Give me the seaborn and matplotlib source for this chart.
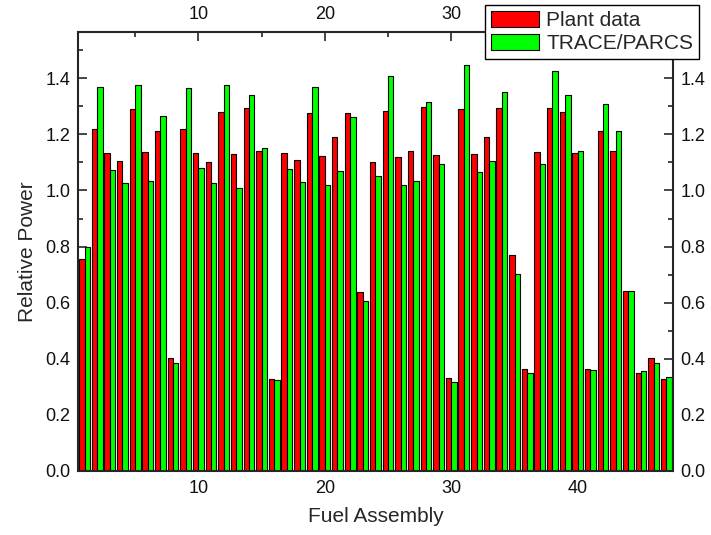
import numpy as np
import pandas as pd
import matplotlib
matplotlib.use('Agg')
import matplotlib.pyplot as plt
import seaborn as sns
from matplotlib.ticker import MultipleLocator

# ── data ─────────────────────────────────────────────────
assembly = list(range(1, 48))
plant = [0.755, 1.218, 1.133, 1.104, 1.292, 1.138, 1.211, 0.403, 1.218, 1.132,
         1.101, 1.280, 1.130, 1.293, 1.140, 0.326, 1.133, 1.107, 1.278, 1.122,
         1.190, 1.275, 0.639, 1.103, 1.284, 1.121, 1.141, 1.297, 1.125, 0.330,
         1.292, 1.131, 1.191, 1.296, 0.771, 0.362, 1.138, 1.295, 1.280, 1.134,
         0.364, 1.212, 1.142, 0.643, 0.350, 0.403, 0.326]
trace = [0.797, 1.370, 1.074, 1.026, 1.376, 1.035, 1.265, 0.384, 1.367, 1.079,
         1.027, 1.375, 1.009, 1.340, 1.152, 0.323, 1.075, 1.031, 1.370, 1.018,
         1.071, 1.263, 0.604, 1.051, 1.410, 1.018, 1.033, 1.314, 1.095, 0.316,
         1.449, 1.066, 1.106, 1.352, 0.702, 0.349, 1.095, 1.425, 1.342, 1.142,
         0.359, 1.309, 1.212, 0.643, 0.357, 0.386, 0.336]
series = ['Plant data', 'TRACE/PARCS']
colors = ['#ff0000', '#00ff00']

df = pd.DataFrame({
    'assembly': assembly * 2,
    'power': plant + trace,
    'source': [series[0]] * len(plant) + [series[1]] * len(trace),
})

sns.set_style('ticks')
plt.rcParams['font.family'] = ['Liberation Sans', 'DejaVu Sans']

fig = plt.figure(figsize=(7.11, 5.35), dpi=100)
ax = fig.add_axes([0.110, 0.120, 0.836, 0.820])

sns.barplot(data=df, x='assembly', y='power', hue='source', hue_order=series,
            palette=colors, native_scale=True, width=0.86, dodge=True,
            edgecolor='black', linewidth=0.8, saturation=1, ax=ax)

ax.set_xlim(0.5, 47.5)
ax.set_ylim(0, 1.565)
ax.xaxis.set_major_locator(MultipleLocator(10))
ax.xaxis.set_minor_locator(MultipleLocator(5))
ax.yaxis.set_major_locator(MultipleLocator(0.2))
ax.yaxis.set_minor_locator(MultipleLocator(0.1))
ax.yaxis.set_major_formatter(matplotlib.ticker.FormatStrFormatter('%.1f'))

ax.tick_params(which='both', direction='in', top=True, right=True,
               labeltop=True, labelright=True, width=1.2, labelsize=13,
               labelcolor='#111111')
ax.tick_params(which='major', length=6.5)
ax.tick_params(which='minor', length=3.6)
ax.tick_params(axis='x', which='major', pad=6.5)
ax.tick_params(axis='y', which='major', pad=5.5)
for s in ax.spines.values():
    s.set_linewidth(1.5)
    s.set_visible(True)

ax.set_xlabel('Fuel Assembly', fontsize=15, labelpad=7)
ax.set_ylabel('Relative Power', fontsize=15, labelpad=6)

leg = ax.legend(loc='upper right', bbox_to_anchor=(1.045, 1.062),
                borderaxespad=0, fontsize=15, fancybox=False, framealpha=1,
                edgecolor='black', handlelength=2.3, handleheight=0.82,
                labelspacing=0.15, handletextpad=0.35, borderpad=0.3)
leg.get_frame().set_linewidth(1.0)
leg.set_zorder(10)

# top "40" sits under the legend in the reference
fig.canvas.draw()
for t in ax.xaxis.get_major_ticks():
    if abs(t.get_loc() - 40) < 1e-6:
        t.label2.set_visible(False)

plt.savefig('out.png', dpi=100)
